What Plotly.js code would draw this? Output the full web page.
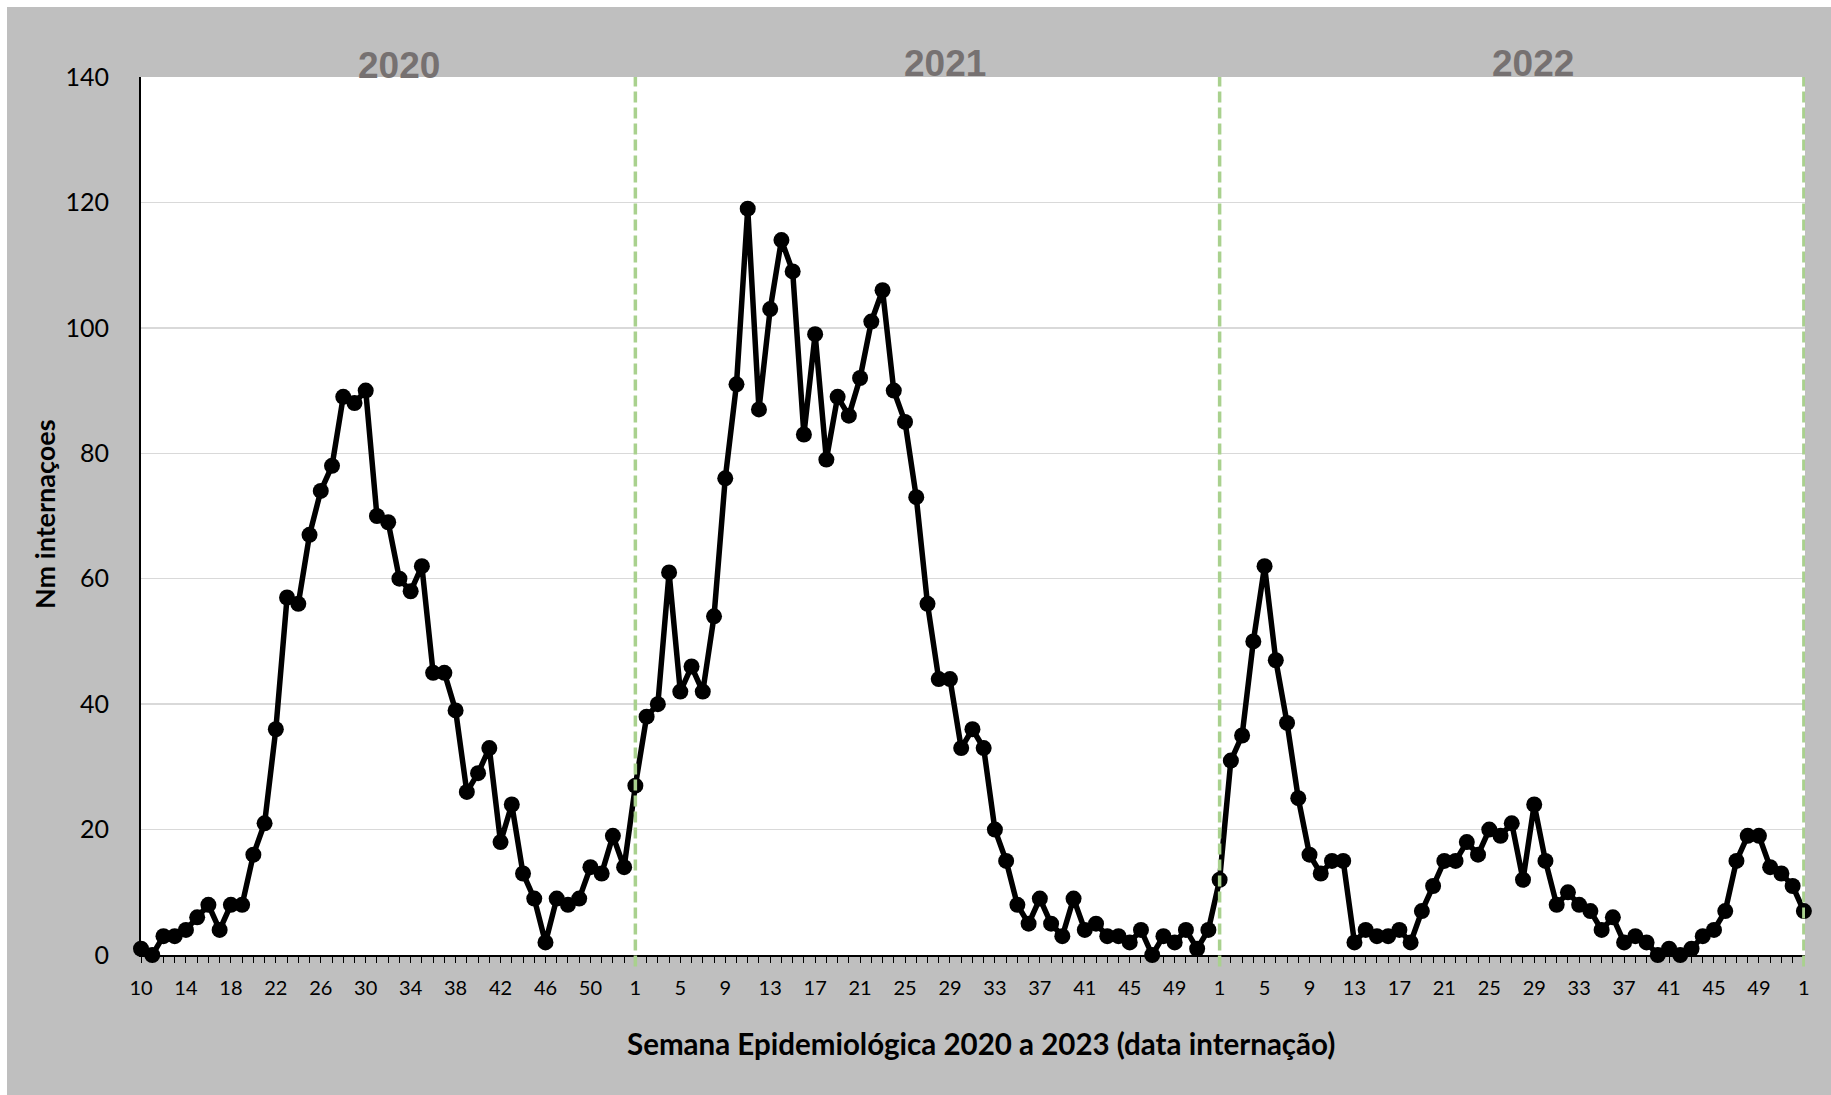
<!DOCTYPE html>
<html>
<head>
<meta charset="utf-8">
<script src="https://cdn.plot.ly/plotly-3.0.1.min.js"></script>
<style>
  html, body { margin: 0; padding: 0; background: #FFFFFF; width: 1831px; height: 1095px; overflow: hidden; }
  #chart { position: absolute; left: 7px; top: 7px; width: 1824px; height: 1088px; }
</style>
</head>
<body>
<div id="chart"></div>
<script>
// Epidemiological week labels (2020 w10 .. 2023 w1)
const weekLabels = [
  10,11,12,13,14,15,16,17,18,19,20,21,22,23,24,25,26,27,28,29,30,31,32,33,34,35,36,37,38,39,40,41,42,43,44,45,46,47,48,49,50,51,52,53,
  1,2,3,4,5,6,7,8,9,10,11,12,13,14,15,16,17,18,19,20,21,22,23,24,25,26,27,28,29,30,31,32,33,34,35,36,37,38,39,40,41,42,43,44,45,46,47,48,49,50,51,52,
  1,2,3,4,5,6,7,8,9,10,11,12,13,14,15,16,17,18,19,20,21,22,23,24,25,26,27,28,29,30,31,32,33,34,35,36,37,38,39,40,41,42,43,44,45,46,47,48,49,50,51,52,
  1
];

// Number of hospital admissions per week
const admissions2020 = [1,0,3,3,4,6,8,4,8,8,16,21,36,57,56,67,74,78,89,88,90,70,69,60,58,62,45,45,39,26,29,33,18,24,13,9,2,9,8,9,14,13,19,14];
const admissions2021 = [27,38,40,61,42,46,42,54,76,91,119,87,103,114,109,83,99,79,89,86,92,101,106,90,85,73,56,44,44,33,36,33,20,15,8,5,9,5,3,9,4,5,3,3,2,4,0,3,2,4,1,4];
const admissions2022 = [12,31,35,50,62,47,37,25,16,13,15,15,2,4,3,3,4,2,7,11,15,15,18,16,20,19,21,12,24,15,8,10,8,7,4,6,2,3,2,0,1,0,1,3,4,7,15,19,19,14,13,11];
const admissions2023 = [7];

const yearLabels = ['2020', '2021', '2022'];
const tickStep = 4;

const admissions = admissions2020.concat(admissions2021, admissions2022, admissions2023);
const xIdx = admissions.map((_, i) => i);
const tickText = weekLabels.map((w, i) => (i % tickStep === 0 ? String(w) : ''));
// positions where a new year starts (week 1)
const yearStarts = xIdx.filter(i => i > 0 && weekLabels[i] === 1);

const trace = {
  type: 'scatter',
  mode: 'lines+markers',
  x: xIdx,
  y: admissions,
  line: { color: '#000000', width: 5.5 },
  marker: { color: '#000000', size: 16 },
  cliponaxis: false,
  hoverinfo: 'x+y'
};

const shapes = yearStarts.map(i => ({
  type: 'line', xref: 'x', yref: 'paper',
  x0: i, x1: i, y0: -0.013, y1: 1.0,
  line: { color: '#A9D18E', width: 3.5, dash: '11px,5px' },
  layer: 'above'
}));

const yearPos = [23, 71.6, 123.9];
const yearShift = [12, 14, 14];
const annotations = yearLabels.map((t, k) => ({
  text: t, xref: 'x', yref: 'paper', x: yearPos[k], y: 1,
  xanchor: 'center', yanchor: 'middle', yshift: yearShift[k], showarrow: false,
  font: { family: 'Liberation Sans, Arial, sans-serif', size: 37, color: '#767171', weight: 700 }
}));
annotations.push({
  text: 'Semana Epidemiológica 2020 a 2023 (data internação)',
  xref: 'paper', yref: 'paper', x: 0.5, y: 0, xshift: 8, yshift: -88,
  xanchor: 'center', yanchor: 'middle', showarrow: false,
  font: { family: 'Lato, Liberation Sans, sans-serif', size: 29.5, color: '#000000', weight: 700 }
});
annotations.push({
  text: 'Nm internaçoes',
  xref: 'paper', yref: 'paper', x: 0, y: 0.5, xshift: -97, yshift: 2,
  xanchor: 'center', yanchor: 'middle', textangle: -90, showarrow: false,
  font: { family: 'Lato, Liberation Sans, sans-serif', size: 27, color: '#000000', weight: 700 }
});

const layout = {
  width: 1824, height: 1088,
  paper_bgcolor: '#BFBFBF',
  plot_bgcolor: '#FFFFFF',
  margin: { l: 134, r: 26, t: 70, b: 140 },
  showlegend: false,
  xaxis: {
    range: [0, 148.1],
    tickmode: 'array', tickvals: xIdx, ticktext: tickText,
    ticks: 'outside', ticklen: 6, tickwidth: 1, tickcolor: '#000000',
    tickangle: 0,
    showline: true, linecolor: '#000000', linewidth: 2,
    showgrid: false, zeroline: false,
    ticklabelstandoff: 8,
    tickfont: { family: 'Lato, Liberation Sans, sans-serif', size: 20, color: '#000000' },
    fixedrange: true
  },
  yaxis: {
    range: [0, 140], dtick: 20, tick0: 0,
    ticks: '',
    showline: true, linecolor: '#000000', linewidth: 2,
    showgrid: true, gridcolor: '#D9D9D9', gridwidth: 1.5,
    zeroline: false,
    ticklabelstandoff: 25,
    tickfont: { family: 'Lato, Liberation Sans, sans-serif', size: 25, color: '#000000' },
    fixedrange: true
  },
  shapes: shapes,
  annotations: annotations
};

Plotly.newPlot('chart', [trace], layout, { displayModeBar: false, staticPlot: true });
</script>
</body>
</html>
